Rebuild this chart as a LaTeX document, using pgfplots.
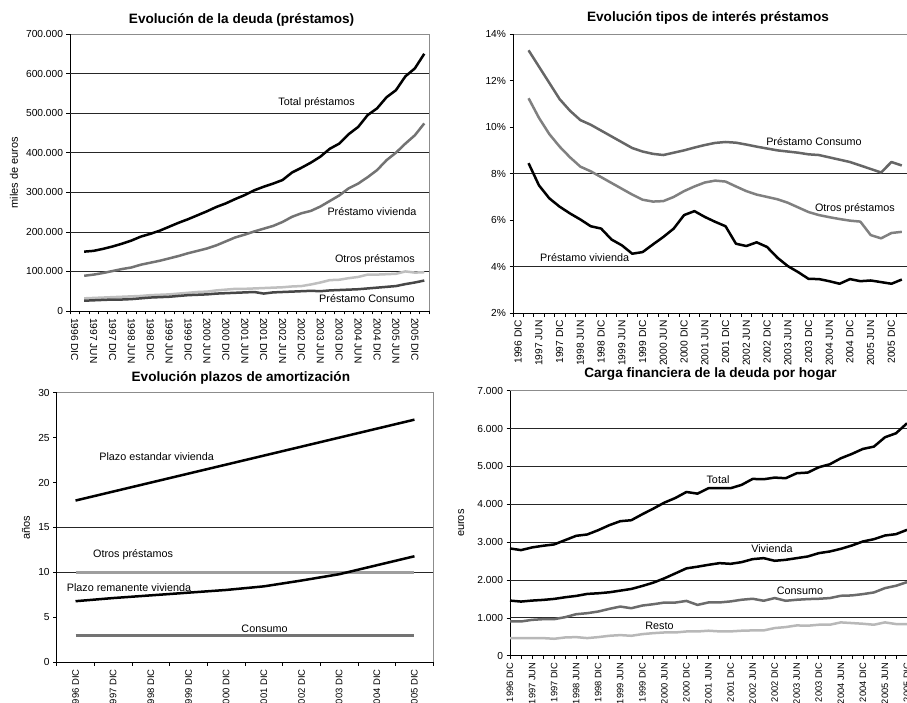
\documentclass[border=0pt]{standalone}
\usepackage{fontspec}
\setmainfont{Liberation Sans}
\usepackage{pgfplots}
\pgfplotsset{compat=1.18}

\pgfplotsset{
  panel/.style={
    scale only axis,
    clip=false,
    axis x line*=bottom, axis y line*=left,
    axis line style={black, line width=0.8pt, -},
    axis background/.style={draw=black!45, line width=0.6pt},
    tick align=outside,
    major tick length=3.5pt, minor tick length=3.5pt,
    tick style={black, line width=0.6pt},
    tick label style={font=\fontsize{10.2}{12}\selectfont},
    /pgf/number format/fixed,
    /pgf/number format/precision=0,
    /pgf/number format/assume math mode=true,
    /pgf/number format/1000 sep={.},
    scaled y ticks=false,
    label style={font=\fontsize{11}{12}\selectfont},
    extra y tick labels={},
    extra y tick style={grid=major, major tick length=0pt},
    major grid style={black!85, line width=0.7pt},
    every axis plot/.append style={no markers, line width=2.5pt, line join=round},
  },
}
\tikzset{
  lbl/.style={font=\fontsize{10.8}{12}\selectfont},
  ttl/.style={font=\bfseries\fontsize{13.6}{15}\selectfont, anchor=center},
}

\begin{document}
\begin{tikzpicture}

% ---------------- deuda ----------------
\begin{axis}[panel,
  at={(70pt,391pt)}, anchor=south west,
  width=359pt, height=277pt,
  xmin=-0.5, xmax=37.5, ymin=0, ymax=700000,
  ytick={0,100000,...,700000},
  extra y ticks={100000,200000,...,600000},
  xtick={0,2,...,36},
  xticklabels={1996 DIC,1997 JUN,1997 DIC,1998 JUN,1998 DIC,1999 JUN,1999 DIC,2000 JUN,2000 DIC,2001 JUN,2001 DIC,2002 JUN,2002 DIC,2003 JUN,2003 DIC,2004 JUN,2004 DIC,2005 JUN,2005 DIC},
  minor xtick={-0.5,0.5,...,37.5},
  major x tick style={opacity=0},
  xticklabel style={rotate=-90, anchor=west, font=\fontsize{10.2}{11}\selectfont},
  ylabel={miles de euros},
  ylabel style={at={(axis description cs:-0.156,0.5)}, anchor=center},
]
\addplot[black] coordinates {
(1,150000)(2,152000)(3,157000)(4,163000)(5,170000)(6,178000)(7,188000)(8,195000)(9,203000)(10,213000)
(11,223000)(12,232000)(13,242000)(14,252000)(15,263000)(16,272000)(17,283000)(18,293000)(19,305000)(20,314000)
(21,322000)(22,331000)(23,350000)(24,362000)(25,375000)(26,390000)(27,410000)(28,423000)(29,447000)(30,465000)
(31,495000)(32,512000)(33,540000)(34,558000)(35,593000)(36,613000)(37,650000)};
\addplot[black!55] coordinates {
(1,89000)(2,92000)(3,96000)(4,101000)(5,106000)(6,110000)(7,117000)(8,122000)(9,127000)(10,133000)
(11,139000)(12,146000)(13,152000)(14,158000)(15,166000)(16,176000)(17,186000)(18,193000)(19,201000)(20,208000)
(21,215000)(22,225000)(23,238000)(24,247000)(25,253000)(26,264000)(27,278000)(28,292000)(29,310000)(30,322000)
(31,338000)(32,356000)(33,381000)(34,400000)(35,423000)(36,444000)(37,474000)};
\addplot[black!25] coordinates {
(1,32000)(2,33000)(3,34000)(4,35000)(5,36000)(6,37000)(7,38000)(8,40000)(9,41000)(10,42000)
(11,44000)(12,46000)(13,48000)(14,49000)(15,52000)(16,54000)(17,56000)(18,56000)(19,57000)(20,58000)
(21,59000)(22,60000)(23,62000)(24,63000)(25,67000)(26,72000)(27,78000)(28,79000)(29,83000)(30,86000)
(31,92000)(32,92000)(33,93000)(34,94000)(35,100000)(36,97000)(37,98000)};
\addplot[black!72] coordinates {
(1,26000)(2,27000)(3,28000)(4,29000)(5,29000)(6,30000)(7,32000)(8,34000)(9,35000)(10,36000)
(11,38000)(12,40000)(13,41000)(14,42000)(15,44000)(16,45000)(17,46000)(18,47000)(19,48000)(20,44000)
(21,47000)(22,48000)(23,49000)(24,50000)(25,51000)(26,50000)(27,52000)(28,53000)(29,54000)(30,55000)
(31,57000)(32,59000)(33,61000)(34,63000)(35,68000)(36,72000)(37,77000)};
\node[lbl] at (axis cs:25.6,527000) {Total préstamos};
\node[lbl] at (axis cs:31.46,250800) {Préstamo vivienda};
\node[lbl] at (axis cs:31.78,128800) {Otros préstamos};
\node[lbl] at (axis cs:30.93,30300) {Préstamo Consumo};
\node[ttl, yshift=14pt] at (rel axis cs:0.478,1) {Evolución de la deuda (préstamos)};
\end{axis}

% ---------------- tipos ----------------
\begin{axis}[panel,
  at={(513pt,388.7pt)}, anchor=south west,
  width=394pt, height=279.3pt,
  xmin=-0.5, xmax=37.5, ymin=2, ymax=14,
  ytick={2,4,...,14},
  yticklabel={\pgfmathprintnumber{\tick}\%},
  extra y ticks={4,8},
  xtick={0,2,...,36},
  xticklabels={1996 DIC,1997 JUN,1997 DIC,1998 JUN,1998 DIC,1999 JUN,1999 DIC,2000 JUN,2000 DIC,2001 JUN,2001 DIC,2002 JUN,2002 DIC,2003 JUN,2003 DIC,2004 JUN,2004 DIC,2005 JUN,2005 DIC},
  minor xtick={-0.5,0.5,...,37.5},
  major x tick style={opacity=0},
  xticklabel style={rotate=90, anchor=east, font=\fontsize{10.2}{11}\selectfont},
]
\addplot[black!60] coordinates {
(1,13.3)(2,12.6)(3,11.9)(4,11.2)(5,10.7)(6,10.3)(7,10.1)(8,9.85)(9,9.6)(10,9.35)
(11,9.1)(12,8.95)(13,8.85)(14,8.8)(15,8.9)(16,9.0)(17,9.12)(18,9.23)(19,9.32)(20,9.36)
(21,9.33)(22,9.25)(23,9.16)(24,9.08)(25,9.0)(26,8.95)(27,8.9)(28,8.83)(29,8.8)(30,8.7)
(31,8.6)(32,8.5)(33,8.35)(34,8.2)(35,8.05)(36,8.5)(37,8.35)};
\addplot[black!50] coordinates {
(1,11.24)(2,10.4)(3,9.7)(4,9.16)(5,8.7)(6,8.3)(7,8.1)(8,7.85)(9,7.6)(10,7.35)
(11,7.1)(12,6.88)(13,6.8)(14,6.82)(15,7.0)(16,7.25)(17,7.45)(18,7.62)(19,7.7)(20,7.66)
(21,7.45)(22,7.25)(23,7.1)(24,7.0)(25,6.9)(26,6.75)(27,6.55)(28,6.35)(29,6.22)(30,6.13)
(31,6.05)(32,5.98)(33,5.94)(34,5.36)(35,5.22)(36,5.45)(37,5.5)};
\addplot[black] coordinates {
(1,8.45)(2,7.5)(3,6.94)(4,6.58)(5,6.29)(6,6.03)(7,5.74)(8,5.64)(9,5.17)(10,4.92)
(11,4.56)(12,4.63)(13,4.96)(14,5.28)(15,5.64)(16,6.22)(17,6.39)(18,6.14)(19,5.93)(20,5.74)
(21,4.99)(22,4.89)(23,5.05)(24,4.85)(25,4.39)(26,4.03)(27,3.77)(28,3.48)(29,3.47)(30,3.38)
(31,3.27)(32,3.47)(33,3.38)(34,3.41)(35,3.34)(36,3.27)(37,3.45)};
\node[lbl] at (axis cs:28.53,9.37) {Préstamo Consumo};
\node[lbl] at (axis cs:32.48,6.51) {Otros préstamos};
\node[lbl] at (axis cs:6.41,4.39) {Préstamo vivienda};
\node[ttl, yshift=15.7pt] at (rel axis cs:0.495,1) {Evolución tipos de interés préstamos};
\end{axis}

% ---------------- plazos ----------------
\begin{axis}[panel,
  at={(56.7pt,39.7pt)}, anchor=south west,
  width=376.6pt, height=269.6pt,
  xmin=0.5, xmax=10.5, ymin=0, ymax=30,
  ytick={0,5,...,30},
  extra y ticks={10,15},
  xtick={1,...,10},
  xticklabels={1996 DIC,1997 DIC,1998 DIC,1999 DIC,2000 DIC,2001 DIC,2002 DIC,2003 DIC,2004 DIC,2005 DIC},
  minor xtick={0.5,1.5,...,10.5},
  major x tick style={opacity=0},
  xticklabel style={rotate=90, anchor=east, font=\fontsize{9.5}{10}\selectfont},
  ylabel={años},
  ylabel style={at={(axis description cs:-0.0815,0.5)}, anchor=center},
]
\addplot[black] coordinates {(1,18)(2,19)(3,20)(4,21)(5,22)(6,23)(7,24)(8,25)(9,26)(10,27)};
\addplot[black!38] coordinates {(1,10)(2,10)(3,10)(4,10)(5,10)(6,10)(7,10)(8,10)(9,10)(10,10)};
\addplot[black] coordinates {(1,6.8)(2,7.15)(3,7.45)(4,7.75)(5,8.05)(6,8.45)(7,9.1)(8,9.8)(9,10.8)(10,11.8)};
\addplot[black!55] coordinates {(1,3)(2,3)(3,3)(4,3)(5,3)(6,3)(7,3)(8,3)(9,3)(10,3)};
\node[lbl] at (axis cs:3.155,22.88) {Plazo estandar vivienda};
\node[lbl] at (axis cs:2.53,11.94) {Otros préstamos};
\node[lbl] at (axis cs:2.42,8.35) {Plazo remanente vivienda};
\node[lbl] at (axis cs:6.02,3.78) {Consumo};
\node[ttl, yshift=14.4pt] at (rel axis cs:0.489,1) {Evolución plazos de amortización};
\end{axis}

% ---------------- carga ----------------
\begin{axis}[panel,
  at={(510pt,46.3pt)}, anchor=south west,
  width=397pt, height=265pt,
  xmin=0, xmax=36, ymin=0, ymax=7000,
  ytick={0,1000,...,7000},
  extra y ticks={1000,2000,...,6000},
  xtick={0,2,...,36},
  xticklabels={1996 DIC,1997 JUN,1997 DIC,1998 JUN,1998 DIC,1999 JUN,1999 DIC,2000 JUN,2000 DIC,2001 JUN,2001 DIC,2002 JUN,2002 DIC,2003 JUN,2003 DIC,2004 JUN,2004 DIC,2005 JUN,2005 DIC},
  minor xtick={1,3,...,35},
  xticklabel style={rotate=90, anchor=east, font=\fontsize{9.3}{10}\selectfont},
  ylabel={euros},
  ylabel style={at={(axis description cs:-0.123,0.5)}, anchor=center},
]
\addplot[black] coordinates {
(0,2833)(1,2789)(2,2860)(3,2904)(4,2939)(5,3053)(6,3167)(7,3202)(8,3316)(9,3447)
(10,3553)(11,3579)(12,3737)(13,3886)(14,4044)(15,4167)(16,4325)(17,4281)(18,4424)(19,4424)
(20,4424)(21,4512)(22,4670)(23,4661)(24,4705)(25,4688)(26,4820)(27,4837)(28,4978)(29,5057)
(30,5215)(31,5330)(32,5462)(33,5523)(34,5770)(35,5875)(36,6139)};
\addplot[black] coordinates {
(0,1456)(1,1430)(2,1456)(3,1474)(4,1500)(5,1544)(6,1579)(7,1632)(8,1649)(9,1675)
(10,1719)(11,1763)(12,1842)(13,1930)(14,2044)(15,2175)(16,2307)(17,2351)(18,2401)(19,2445)
(20,2427)(21,2471)(22,2551)(23,2577)(24,2507)(25,2533)(26,2577)(27,2621)(28,2709)(29,2753)
(30,2823)(31,2911)(32,3017)(33,3078)(34,3175)(35,3210)(36,3325)};
\addplot[black!58] coordinates {
(0,904)(1,904)(2,947)(3,965)(4,965)(5,1018)(6,1096)(7,1123)(8,1167)(9,1237)
(10,1298)(11,1254)(12,1325)(13,1360)(14,1404)(15,1404)(16,1447)(17,1342)(18,1407)(19,1407)
(20,1434)(21,1478)(22,1504)(23,1451)(24,1522)(25,1451)(26,1478)(27,1495)(28,1504)(29,1522)
(30,1583)(31,1592)(32,1627)(33,1671)(34,1785)(35,1847)(36,1944)};
\addplot[black!28] coordinates {
(0,465)(1,465)(2,465)(3,465)(4,447)(5,482)(6,491)(7,465)(8,491)(9,526)
(10,544)(11,526)(12,570)(13,596)(14,614)(15,614)(16,640)(17,640)(18,660)(19,642)
(20,642)(21,660)(22,668)(23,668)(24,730)(25,756)(26,800)(27,792)(28,818)(29,818)
(30,880)(31,862)(32,844)(33,818)(34,880)(35,836)(36,836)};
\node[lbl] at (axis cs:18.86,4641) {Total};
\node[lbl] at (axis cs:23.75,2837) {Vivienda};
\node[lbl] at (axis cs:26.29,1709) {Consumo};
\node[lbl] at (axis cs:13.55,785) {Resto};
\node[ttl, yshift=16.7pt] at (rel axis cs:0.505,1) {Carga financiera de la deuda por hogar};
\end{axis}

\pgfresetboundingbox
\path[use as bounding box] (0pt,0pt) rectangle (907pt,702pt);
\end{tikzpicture}
\end{document}
